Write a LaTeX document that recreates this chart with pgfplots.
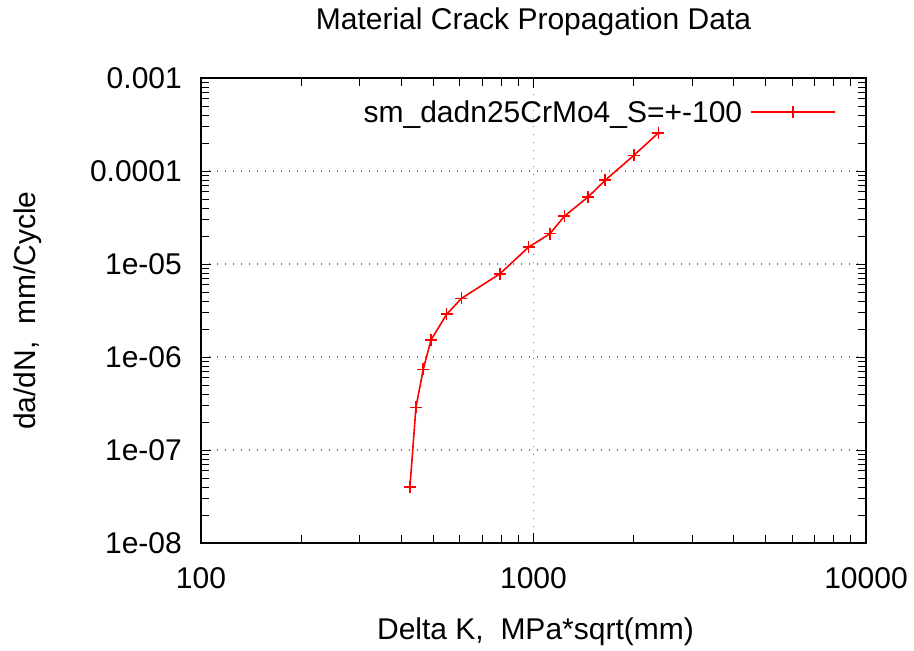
\documentclass[border=0pt]{standalone}
\usepackage{fontspec}
\setmainfont{Liberation Sans}
\usepackage{pgfplots}
\pgfplotsset{compat=1.18}
\begin{document}
\begin{tikzpicture}
\useasboundingbox (-201pt,-108pt) rectangle (713pt,543pt);
\begin{axis}[
  scale only axis,
  width=665pt, height=465pt,
  xmode=log, ymode=log,
  xmin=100, xmax=10000, ymin=1e-8, ymax=1e-3,
  font={\fontsize{30}{36}\selectfont},
  /pgf/number format/assume math mode=true,
  xtick={100,1000,10000},
  xticklabels={100,1000,10000},
  ytick={1e-8,1e-7,1e-6,1e-5,1e-4,1e-3},
  yticklabels={1e-08,1e-07,1e-06,1e-05,0.0001,0.001},
  xticklabel style={inner sep=0pt}, xticklabel shift=24pt,
  yticklabel style={inner sep=0pt}, yticklabel shift=19pt,
  major tick length=10pt, minor tick length=8pt,
  tick style={black, line width=0.9pt},
  axis line style={black, line width=1.1pt},
  xmajorgrids, ymajorgrids,
  major grid style={black!55, line width=1.3pt, dash pattern=on 1.3pt off 6.7pt},
  title={Material Crack Propagation Data},
  every axis title/.style={at={(rel axis cs:0.5,1)}, anchor=center, yshift=56pt},
  xlabel={Delta K,\ \ MPa*sqrt(mm)},
  every axis x label/.style={at={(rel axis cs:0.5,0)}, anchor=center, yshift=-89pt, xshift=2pt},
  ylabel={da/dN,\ \ mm/Cycle},
  every axis y label/.style={at={(axis description cs:-0.26,0.5)}, anchor=center, rotate=90},
  legend plot pos=right,
  legend style={at={(rel axis cs:1,1)}, anchor=east, xshift=-30pt, yshift=-34pt,
    draw=none, fill=none, inner sep=0pt, column sep=6pt,
    font={\fontsize{30}{36}\selectfont}},
  legend image code/.code={\draw[#1,mark repeat=2,mark phase=2] plot coordinates {(0pt,0pt) (42pt,0pt) (84pt,0pt)};},
]
\addplot[red, line width=1.6pt, mark=+, mark size=6pt, mark options={line width=1.6pt}] coordinates {
(425,4.0e-8)
(443,2.87e-7)
(466,7.37e-7)
(492,1.53e-6)
(548,2.88e-6)
(607,4.26e-6)
(793,7.86e-6)
(967,1.52e-5)
(1121,2.12e-5)
(1238,3.26e-5)
(1459,5.26e-5)
(1644,7.96e-5)
(2002,1.47e-4)
(2374,2.57e-4)
};
\addlegendentry{sm\_dadn25CrMo4\_S=+-100}
\end{axis}
\end{tikzpicture}
\end{document}
